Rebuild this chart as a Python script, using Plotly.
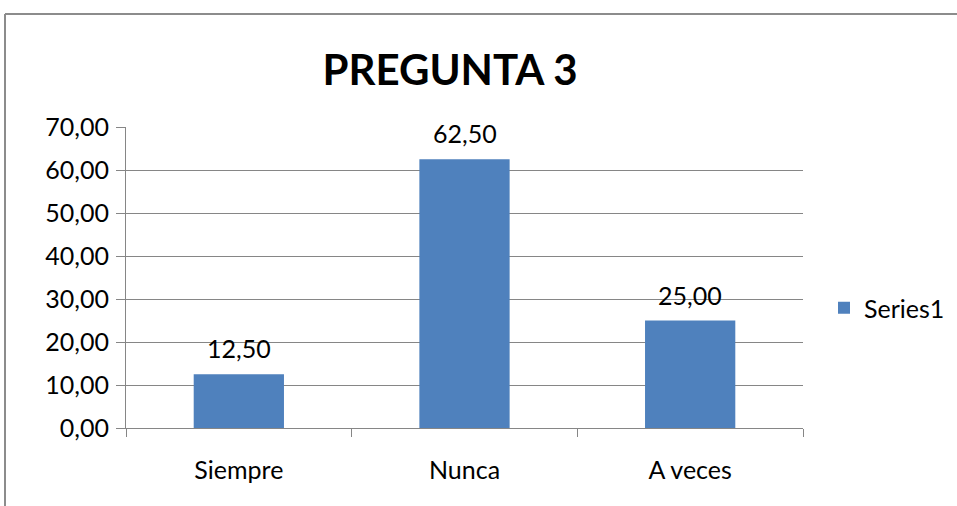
import plotly.graph_objects as go

categories = ["Siempre", "Nunca", "A veces"]
values = [12.50, 62.50, 25.00]
series_name = "Series1"
title_text = "PREGUNTA 3"

FONT = "Lato, Calibri, sans-serif"
GRAY = "#868686"
BLUE = "#4F81BD"
FS = 25

fig = go.Figure()
fig.add_trace(go.Bar(
    x=categories, y=values, name=series_name,
    marker=dict(color=BLUE, line=dict(width=0)),
    width=0.4,
))

for c, v in zip(categories, values):
    fig.add_annotation(
        x=c, y=v, text=f"{v:.2f}".replace(".", ","),
        showarrow=False, yanchor="bottom", yshift=9,
        font=dict(family=FONT, size=FS, color="#000000"),
    )

W, H = 957, 506
L, R, T, B = 126, 154, 127, 78
pw, ph = W - L - R, H - T - B

fig.update_layout(
    width=W, height=H,
    margin=dict(l=L, r=R, t=T, b=B, pad=0, autoexpand=False),
    paper_bgcolor="white", plot_bgcolor="white",
    separators=",.",
    font=dict(family=FONT, size=FS, color="#000000"),
    title=dict(text="<b>" + title_text + "</b>", x=450 / W, xanchor="center",
               y=1 - 70 / H, yanchor="middle",
               font=dict(family=FONT, size=42, color="#000000")),
    showlegend=True,
    legend=dict(xref="container", yref="container", x=824 / W, y=1 - 308 / H,
                xanchor="left", yanchor="middle",
                font=dict(family=FONT, size=FS), itemwidth=30, bgcolor="rgba(0,0,0,0)"),
    bargap=0.6,
    xaxis=dict(
        showline=True, linecolor=GRAY, linewidth=1,
        ticks="outside", ticklen=8, tickcolor=GRAY, tickson="boundaries",
        showgrid=False, tickfont=dict(family=FONT, size=FS), ticklabelstandoff=20,
        automargin=False,
    ),
    yaxis=dict(
        range=[0, 70], dtick=10, tickformat=".2f",
        showline=True, linecolor=GRAY, linewidth=1,
        ticks="outside", ticklen=9, tickcolor=GRAY,
        showgrid=True, gridcolor=GRAY, gridwidth=1, zeroline=False,
        tickfont=dict(family=FONT, size=FS), ticklabelstandoff=2,
        automargin=False,
    ),
)

# outer chart border (only left and top visible in the crop)
x0 = (5 - L) / pw
y0 = 1 + (T - 14) / ph
fig.add_shape(type="line", xref="paper", yref="paper", x0=x0, x1=(W + 5 - L) / pw, y0=y0, y1=y0,
              line=dict(color="#8c8c8c", width=2))
fig.add_shape(type="line", xref="paper", yref="paper", x0=x0, x1=x0, y0=y0, y1=-(B + 5) / ph,
              line=dict(color="#8c8c8c", width=2))

fig.write_html("out.html", config={"displayModeBar": False},
               post_script="document.body.style.margin='0';")
